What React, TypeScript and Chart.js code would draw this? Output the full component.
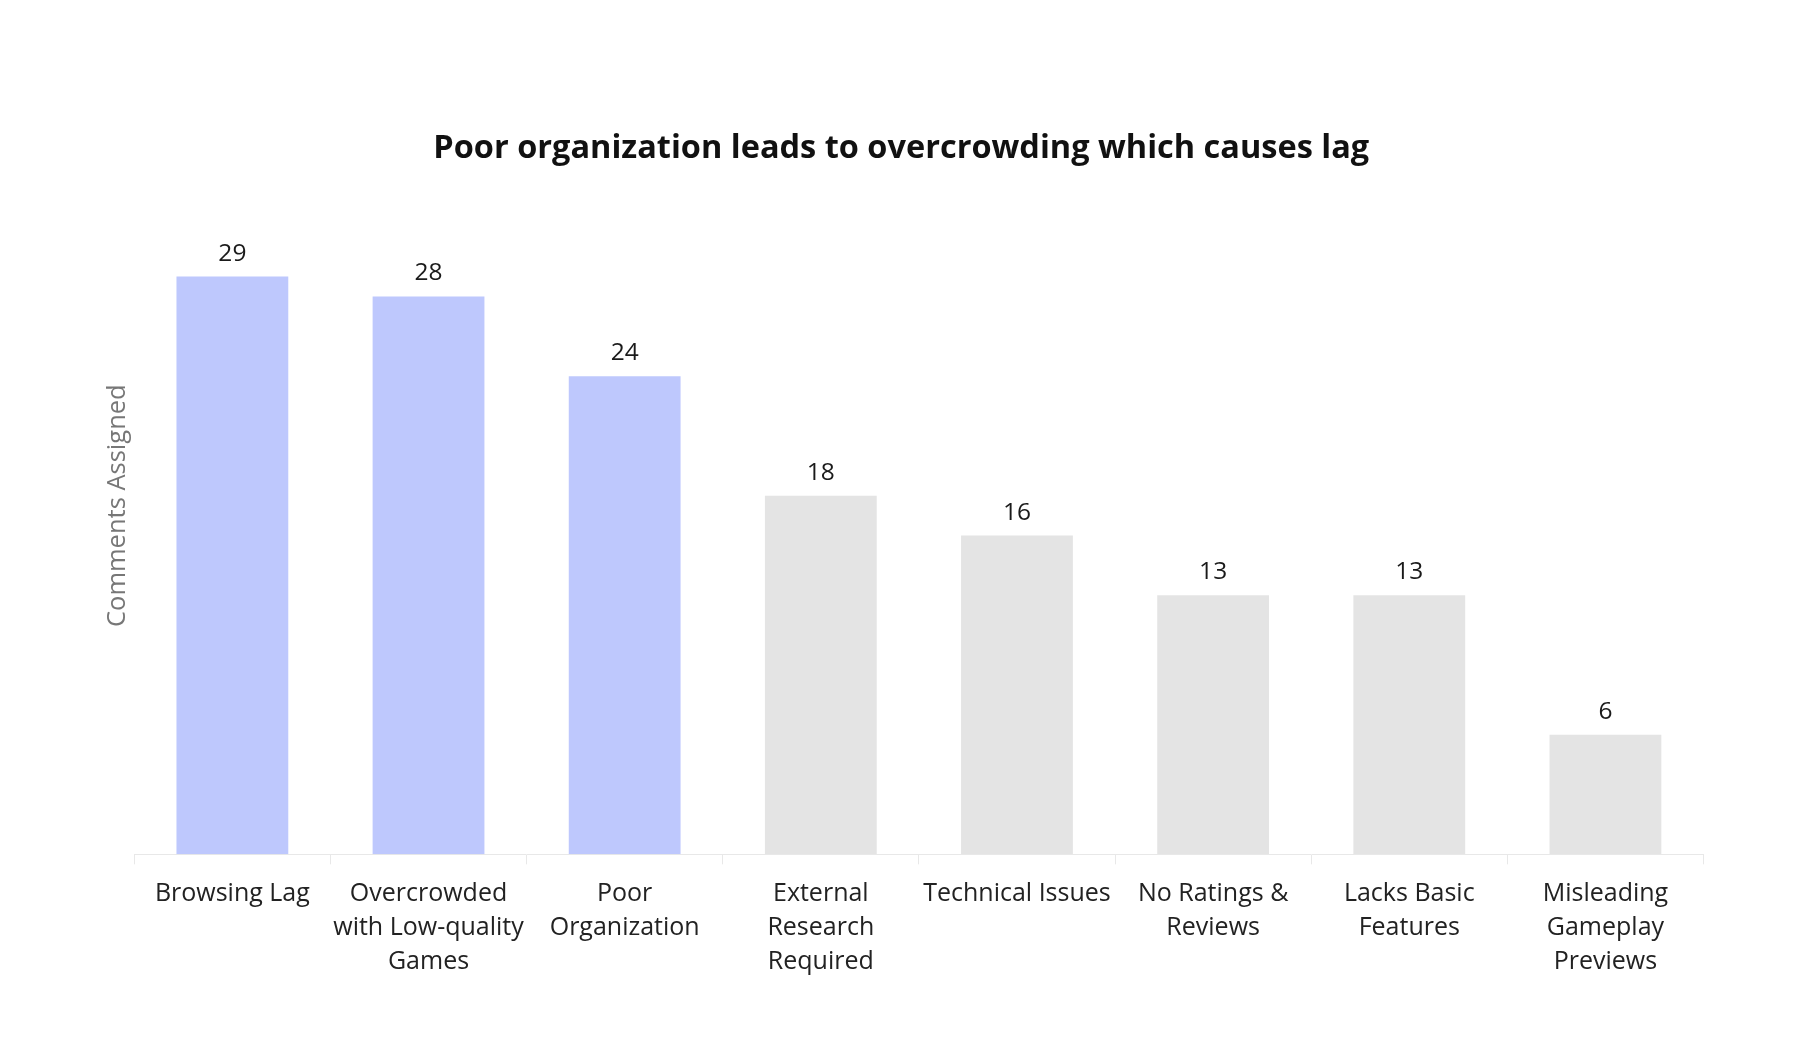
import React, { useEffect, useRef } from "react";
import { Chart, registerables } from "chart.js";

Chart.register(...registerables);

const categories: string[][] = [
  ["Browsing Lag"],
  ["Overcrowded", "with Low-quality", "Games"],
  ["Poor", "Organization"],
  ["External", "Research", "Required"],
  ["Technical Issues"],
  ["No Ratings &", "Reviews"],
  ["Lacks Basic", "Features"],
  ["Misleading", "Gameplay", "Previews"],
];
const commentCounts: number[] = [29, 28, 24, 18, 16, 13, 13, 6];
const highlighted: boolean[] = [true, true, true, false, false, false, false, false];

const chartTitle = "Poor organization leads to overcrowding which causes lag";
const yAxisTitle = "Comments Assigned";

const BLUE = "#BEC8FD";
const GRAY = "#E4E4E4";
const FONT = "'Open Sans', sans-serif";

const valueLabels = {
  id: "valueLabels",
  afterDatasetsDraw(chart: any) {
    const ctx = chart.ctx;
    const meta = chart.getDatasetMeta(0);
    ctx.save();
    ctx.font = `24.5px ${FONT}`;
    ctx.fillStyle = "#1a1a1a";
    ctx.textAlign = "center";
    ctx.textBaseline = "alphabetic";
    meta.data.forEach((el: any, i: number) => {
      ctx.fillText(String(chart.data.datasets[0].data[i]), el.x, el.y - 16);
    });
    ctx.restore();
  },
};

export default function App() {
  const ref = useRef<HTMLCanvasElement | null>(null);
  useEffect(() => {
    if (!ref.current) return;
    const chart = new Chart(ref.current, {
      type: "bar",
      data: {
        labels: categories,
        datasets: [
          {
            data: commentCounts,
            backgroundColor: highlighted.map((h) => (h ? BLUE : GRAY)),
            borderWidth: 0,
            categoryPercentage: 1,
            barPercentage: 0.57,
          },
        ],
      },
      options: {
        animation: false,
        responsive: false,
        maintainAspectRatio: false,
        layout: { padding: { left: 99, right: 96.5, top: 0, bottom: 71.5 } },
        plugins: {
          legend: { display: false },
          tooltip: { enabled: false },
          title: {
            display: true,
            text: chartTitle,
            color: "#111111",
            font: { family: FONT, size: 32.5, weight: "bold" },
            padding: { top: 129, bottom: -11 },
          },
        },
        scales: {
          x: {
            grid: {
              display: true,
              drawOnChartArea: false,
              drawTicks: true,
              tickLength: 10,
              color: "#E8E8E8",
              offset: true,
            },
            border: { display: true, color: "#E8E8E8", width: 1 },
            ticks: {
              color: "#222222",
              font: { family: FONT, size: 25, lineHeight: 1.376 },
              padding: 12,
              maxRotation: 0,
              autoSkip: false,
            },
          },
          y: {
            min: 0,
            max: 35,
            grid: { display: false },
            border: { display: false },
            ticks: { display: false },
            afterFit(scale: any) {
              scale.width = 35.3;
            },
            title: {
              display: true,
              text: yAxisTitle,
              color: "#777777",
              font: { family: FONT, size: 25.5 },
              padding: { top: 3, bottom: 0 },
            },
          },
        },
      },
      plugins: [valueLabels],
    });
    return () => chart.destroy();
  }, []);
  return (
    <div style={{ position: "absolute", left: 0, top: 0, width: 1800, height: 1063, background: "#ffffff" }}>
      <canvas ref={ref} width={1800} height={1063} style={{ width: 1800, height: 1063 }} />
    </div>
  );
}
